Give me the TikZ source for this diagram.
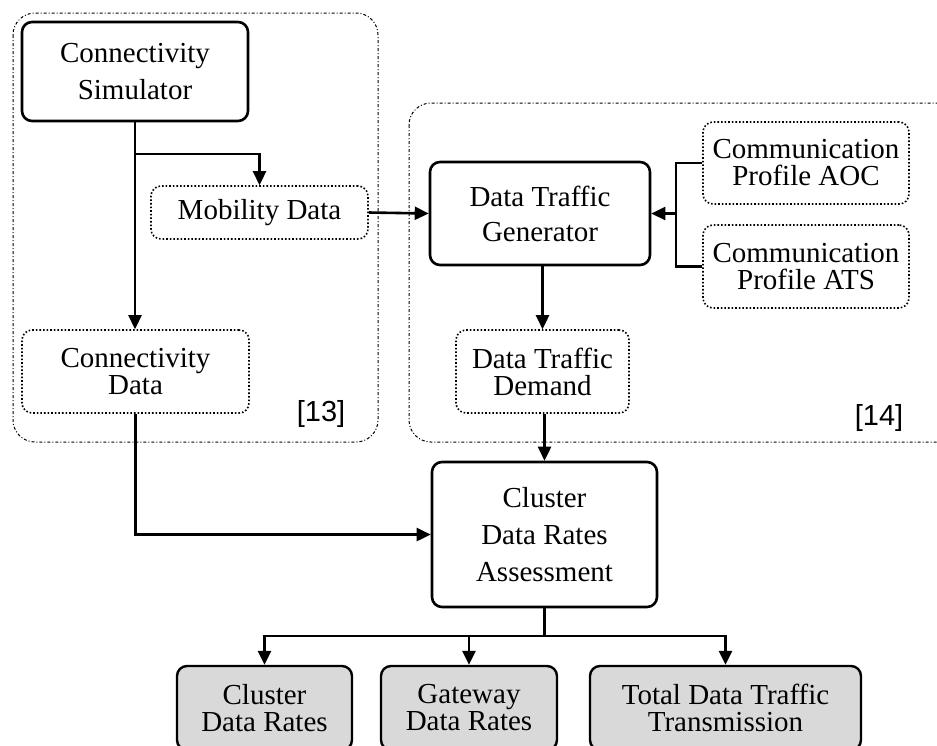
\documentclass[tikz,border=0pt]{standalone}
\usepackage{fontspec}
\setmainfont{Liberation Serif}
\newfontfamily\labfont{Liberation Sans}
\usetikzlibrary{arrows.meta}
\tikzset{
  box/.style={rectangle, rounded corners=10pt, inner sep=0pt, align=center, font=\fontsize{29}{27}\selectfont},
  solidbox/.style={box, draw, line width=2.6pt, font=\fontsize{29}{37}\selectfont},
  dotbox/.style={box, draw, line width=1.6pt, dotted},
  outbox/.style={box, draw, line width=2.4pt, fill=black!15},
  group/.style={draw, line width=1pt, dash dot, rounded corners=22pt},
  conn/.style={line width=2.6pt},
  arr/.style={conn, -{Triangle[length=14pt,width=13pt]}},
  lab/.style={font=\labfont\fontsize{29}{30}\selectfont, inner sep=0pt}
}
\begin{document}
\begin{tikzpicture}[x=1pt,y=-1pt]
\useasboundingbox (0,0) rectangle (937,745);
\clip (0,0) rectangle (937,745);
% groups
\draw[group] (13,13) rectangle (378,442);
\draw[group] (409,103) rectangle (960,442);
% nodes
\node[solidbox, minimum width=226pt, minimum height=99pt] (sim) at (135,71.5) {Connectivity\\Simulator};
\node[dotbox, minimum width=217pt, minimum height=53pt] (mob) at (259.5,212.5) {Mobility Data};
\node[dotbox, minimum width=227pt, minimum height=83pt] (cdata) at (135.5,371.5) {Connectivity\\Data};
\node[solidbox, minimum width=220pt, minimum height=103pt, font=\fontsize{29}{35}\selectfont] (dtg) at (540,213.5) {Data Traffic\\Generator};
\node[dotbox, minimum width=206pt, minimum height=82pt] (aoc) at (806,163) {Communication\\Profile AOC};
\node[dotbox, minimum width=206pt, minimum height=83pt] (ats) at (806,266.5) {Communication\\Profile ATS};
\node[dotbox, minimum width=173pt, minimum height=83pt] (dtd) at (542.5,371.5) {Data Traffic\\Demand};
\node[solidbox, minimum width=225pt, minimum height=145pt] (cdra) at (544.5,534.5) {Cluster\\Data Rates\\Assessment};
\node[outbox, minimum width=175pt, minimum height=84pt] (out1) at (264.5,708) {Cluster\\Data Rates};
\node[outbox, minimum width=176pt, minimum height=84pt] (out2) at (469,708) {Gateway\\Data Rates};
\node[outbox, minimum width=271pt, minimum height=84pt] (out3) at (725.5,708) {Total Data Traffic\\Transmission};
\node[lab] (l13) at (321,414) {[13]};
\node[lab] (l14) at (879,418) {[14]};
% helper coordinates
\coordinate (br1) at (135,154);
\coordinate (brk) at (676,213.5);
\coordinate (bus) at (544.5,636);
% connectors
\draw[arr] (sim.south) -- (sim.south |- cdata.north);
\draw[arr] (br1) -| (mob.north);
\draw[arr] (mob.east) -- (dtg.west);
\draw[conn] (aoc.west) -- (aoc.west -| brk) -- (ats.west -| brk) -- (ats.west);
\draw[arr] (brk) -- (dtg.east);
\draw[arr] (dtg.south -| dtd.north) -- (dtd.north);
\draw[arr] (dtd.south -| cdra.north) -- (cdra.north);
\draw[arr] (cdata.south) |- (cdra.west);
\draw[conn] (cdra.south) -- (bus);
\draw[arr] (bus) -| (out1.north);
\draw[arr] (bus) -| (out2.north);
\draw[arr] (bus) -| (out3.north);
\end{tikzpicture}
\end{document}
